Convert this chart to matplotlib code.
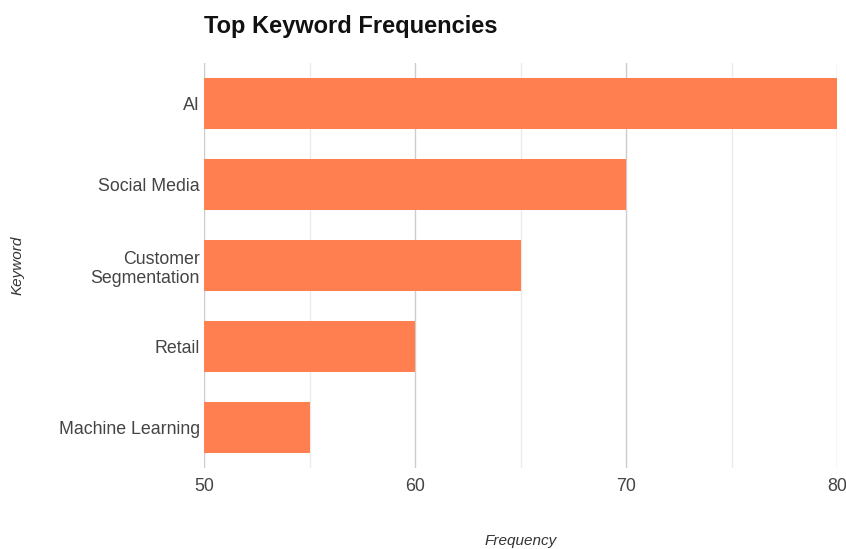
import matplotlib.pyplot as plt
from matplotlib.ticker import MultipleLocator

keywords = ['AI', 'Social Media', 'Customer\nSegmentation', 'Retail', 'Machine Learning']
frequencies = [80, 70, 65, 60, 55]

plt.rcParams['font.family'] = ['Liberation Sans', 'DejaVu Sans']

fig = plt.figure(figsize=(8.46, 5.49), dpi=100)
ax = fig.add_axes([204 / 846, 1 - 468 / 549, (837 - 204) / 846, (468 - 63) / 549])

pos = list(range(len(keywords)))
ax.barh(pos, [f - 50 for f in frequencies], left=50, height=0.62, color='#FF7F50', zorder=3)

ax.set_xlim(50, 80)
ax.set_ylim(len(keywords) - 0.5, -0.5)
ax.set_yticks(pos)
ax.set_yticklabels(keywords, fontsize=12.8, color='#444444')
ax.xaxis.set_major_locator(MultipleLocator(10))
ax.xaxis.set_minor_locator(MultipleLocator(5))
ax.tick_params(axis='x', which='both', length=0, pad=7, labelsize=12.8, labelcolor='#444444')
ax.tick_params(axis='y', length=0, pad=3)
ax.grid(axis='x', which='major', color='#cccccc', linewidth=1, zorder=0)
ax.grid(axis='x', which='minor', color='#ebebeb', linewidth=1, zorder=0)
for s in ax.spines.values():
    s.set_visible(False)

ax.set_xlabel('Frequency', fontsize=11, style='italic', color='#333333')
ax.set_ylabel('Keyword', fontsize=11, style='italic', color='#333333')
ax.xaxis.set_label_coords(0.5, (468 - 534) / 405)
ax.yaxis.set_label_coords((25 - 204) / 633, 0.5)
fig.text(204 / 846, 1 - 26 / 549, 'Top Keyword Frequencies', fontsize=17, fontweight='bold',
         color='#111111', ha='left', va='center')

fig.savefig('out.png', dpi=100)
